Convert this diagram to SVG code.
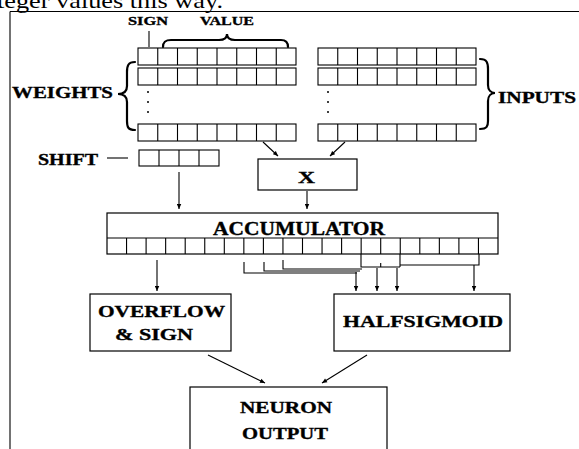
<svg xmlns="http://www.w3.org/2000/svg" xmlns:xlink="http://www.w3.org/1999/xlink" width="579" height="449" viewBox="0 0 579 449">
<style>
.ln{stroke:#000;fill:none;stroke-width:1.1}
.cell{stroke:#000;fill:#fff;stroke-width:1.1}
.box{stroke:#000;fill:#fff;stroke-width:1.2}
.br{stroke:#000;fill:none;stroke-width:2.2;stroke-linecap:round}
.t{font-family:"Liberation Serif","Times New Roman",serif;font-weight:bold;fill:#000;stroke:#000;stroke-width:0.35}
.cap{font-family:"Liberation Serif","Times New Roman",serif;fill:#000}
</style>
<defs>
<marker id="ah" viewBox="0 0 10 10" refX="10" refY="5" markerWidth="6" markerHeight="5" orient="auto" markerUnits="userSpaceOnUse">
<path d="M0 0.5 L10 5 L0 9.5 z" fill="#000"/>
</marker>
<g id="row8">
<rect class="cell" x="0" y="0" width="158" height="17"/>
<path class="ln" d="M19.75 0v17M39.5 0v17M59.25 0v17M79 0v17M98.75 0v17M118.5 0v17M138.25 0v17"/>
</g>
</defs>
<rect width="579" height="449" fill="#fff"/>
<text class="cap" x="-3" y="8" font-size="22" textLength="226" lengthAdjust="spacingAndGlyphs">teger values this way.</text>
<path class="ln" d="M10 11.5H579M10 11.5V449" stroke-width="1.5"/>

<g id="labels">
<text class="t" x="128" y="25" font-size="13" textLength="40" lengthAdjust="spacingAndGlyphs">SIGN</text>
<text class="t" x="200" y="25" font-size="13" textLength="54" lengthAdjust="spacingAndGlyphs">VALUE</text>
<path class="ln" d="M149 31V47"/>
<path class="br" d="M163 47C163 42 165 40 171 40L219 40C224 40 227 38 227 34C227 38 230 40 235 40L281 40C286 40 288 42 288 47"/>
</g>

<g id="weights">
<use xlink:href="#row8" x="138" y="48"/>
<use xlink:href="#row8" x="138" y="68"/>
<use xlink:href="#row8" x="138" y="124"/>
<circle cx="148" cy="92" r="1" fill="#000"/>
<circle cx="148" cy="102" r="1" fill="#000"/>
<circle cx="148" cy="112" r="1" fill="#000"/>
<path class="br" d="M135 62C128 62 127 66 127 72L127 86C127 91 124 94 118 94C124 94 127 97 127 102L127 121C127 127 128 130 135 130"/>
<text class="t" x="12" y="98" font-size="17" textLength="101" lengthAdjust="spacingAndGlyphs">WEIGHTS</text>
</g>

<g id="inputs">
<use xlink:href="#row8" x="318" y="48"/>
<use xlink:href="#row8" x="318" y="68"/>
<use xlink:href="#row8" x="318" y="124"/>
<circle cx="328" cy="92" r="1" fill="#000"/>
<circle cx="328" cy="102" r="1" fill="#000"/>
<circle cx="328" cy="112" r="1" fill="#000"/>
<path class="br" d="M480 59C487 59 488 63 488 69L488 85C488 90 491 93 495 93C491 93 488 96 488 101L488 121C488 126 487 129 480 129"/>
<text class="t" x="498" y="103" font-size="17" textLength="78" lengthAdjust="spacingAndGlyphs">INPUTS</text>
</g>

<g id="shift">
<text class="t" x="38" y="165" font-size="16" textLength="60" lengthAdjust="spacingAndGlyphs">SHIFT</text>
<path class="ln" d="M107 158H128"/>
<rect class="cell" x="139" y="150" width="80" height="16"/>
<path class="ln" d="M159 150v16M179 150v16M199 150v16"/>
</g>

<g id="mult">
<rect class="box" x="258" y="159" width="99" height="31"/>
<text class="t" x="298" y="183" font-size="17" textLength="17" lengthAdjust="spacingAndGlyphs">X</text>
</g>

<g id="accumulator">
<rect class="box" x="107" y="213" width="391" height="41"/>
<path class="ln" d="M107 238H498"/>
<path class="ln" d="M126.55 238v16M146.1 238v16M165.65 238v16M185.2 238v16M204.75 238v16M224.3 238v16M243.85 238v16M263.4 238v16M282.95 238v16M302.5 238v16M322.05 238v16M341.6 238v16M361.15 238v16M380.7 238v16M400.25 238v16M419.8 238v16M439.35 238v16M458.9 238v16M478.45 238v16"/>
<text class="t" x="213" y="235" font-size="18" textLength="172" lengthAdjust="spacingAndGlyphs">ACCUMULATOR</text>
</g>

<g id="overflow">
<rect class="box" x="90" y="294" width="141" height="57"/>
<text class="t" x="98" y="317" font-size="17" textLength="127" lengthAdjust="spacingAndGlyphs">OVERFLOW</text>
<text class="t" x="115" y="340" font-size="17" textLength="78" lengthAdjust="spacingAndGlyphs">&amp; SIGN</text>
</g>

<g id="halfsigmoid">
<rect class="box" x="334" y="294" width="176" height="57"/>
<text class="t" x="343" y="327" font-size="17" textLength="160" lengthAdjust="spacingAndGlyphs">HALFSIGMOID</text>
</g>

<g id="neuron">
<rect class="box" x="190" y="387" width="197" height="70"/>
<text class="t" x="240" y="413" font-size="17" textLength="92" lengthAdjust="spacingAndGlyphs">NEURON</text>
<text class="t" x="242" y="439" font-size="17" textLength="86" lengthAdjust="spacingAndGlyphs">OUTPUT</text>
</g>

<g id="connectors">
<path class="ln" d="M263 142L278 156" marker-end="url(#ah)"/>
<path class="ln" d="M345 142L330 156" marker-end="url(#ah)"/>
<path class="ln" d="M179 172V209" marker-end="url(#ah)"/>
<path class="ln" d="M307 191V209" marker-end="url(#ah)"/>
<path class="ln" d="M157 260V291" marker-end="url(#ah)"/>
<path class="ln" d="M244 262V273H357M264 262V271H360M283 260V269H362"/>
<path class="ln" d="M361 254V267H400M400 254V267M380.7 263V267M400 265H479V254"/>
<path class="ln" d="M356 272V291" marker-end="url(#ah)"/>
<path class="ln" d="M377 268V291" marker-end="url(#ah)"/>
<path class="ln" d="M397 268V291" marker-end="url(#ah)"/>
<path class="ln" d="M474 265V291" marker-end="url(#ah)"/>
<path class="ln" d="M208 355L265 383" marker-end="url(#ah)"/>
<path class="ln" d="M367 355L322 383" marker-end="url(#ah)"/>
</g>
</svg>
